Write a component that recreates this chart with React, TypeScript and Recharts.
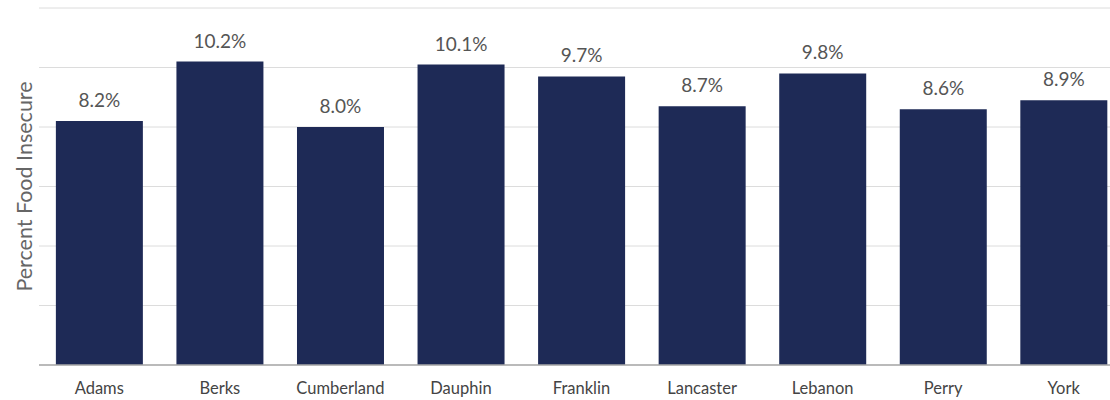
import { Bar, BarChart, CartesianGrid, LabelList, ReferenceLine, XAxis, YAxis } from 'recharts'

const counties = ['Adams', 'Berks', 'Cumberland', 'Dauphin', 'Franklin', 'Lancaster', 'Lebanon', 'Perry', 'York']
const insecure = [8.2, 10.2, 8.0, 10.1, 9.7, 8.7, 9.8, 8.6, 8.9]
const yTicks = [0, 2, 4, 6, 8, 10, 12]

const data = counties.map((name, i) => ({ name, value: insecure[i], label: `${insecure[i].toFixed(1)}%` }))

const font = 'Lato, "Open Sans", sans-serif'

export default function App() {
  return (
    <div style={{ position: 'absolute', left: 0, top: 0, width: 1110, height: 400, overflow: 'hidden', background: '#fff' }}>
      <BarChart
        width={1130}
        height={400}
        data={data}
        margin={{ top: 8, right: 6, left: 8, bottom: 5 }}
        barCategoryGap="14%"
      >
        <CartesianGrid vertical={false} stroke="#dcdcdc" strokeWidth={1} />
        <XAxis
          dataKey="name"
          height={30}
          axisLine={false}
          tickLine={false}
          tickMargin={11}
          interval={0}
          tick={{ fontSize: 16.5, fill: '#444', fontFamily: font }}
        />
        <YAxis
          domain={[0, 12]}
          ticks={yTicks}
          width={31}
          tick={() => <g />}
          axisLine={false}
          tickLine={false}
          label={{
            value: 'Percent Food Insecure',
            angle: -90,
            position: 'insideLeft',
            offset: 16,
            style: { textAnchor: 'middle', fontSize: 21.5, fill: '#666', fontFamily: font },
          }}
        />
        <ReferenceLine y={0} stroke="#a9a9a9" strokeWidth={1.5} />
        <Bar dataKey="value" fill="#1e2a56" isAnimationActive={false}>
          <LabelList
            dataKey="label"
            position="top"
            offset={14}
            style={{ fontSize: 19, fill: '#555', fontFamily: font }}
          />
        </Bar>
      </BarChart>
    </div>
  )
}
